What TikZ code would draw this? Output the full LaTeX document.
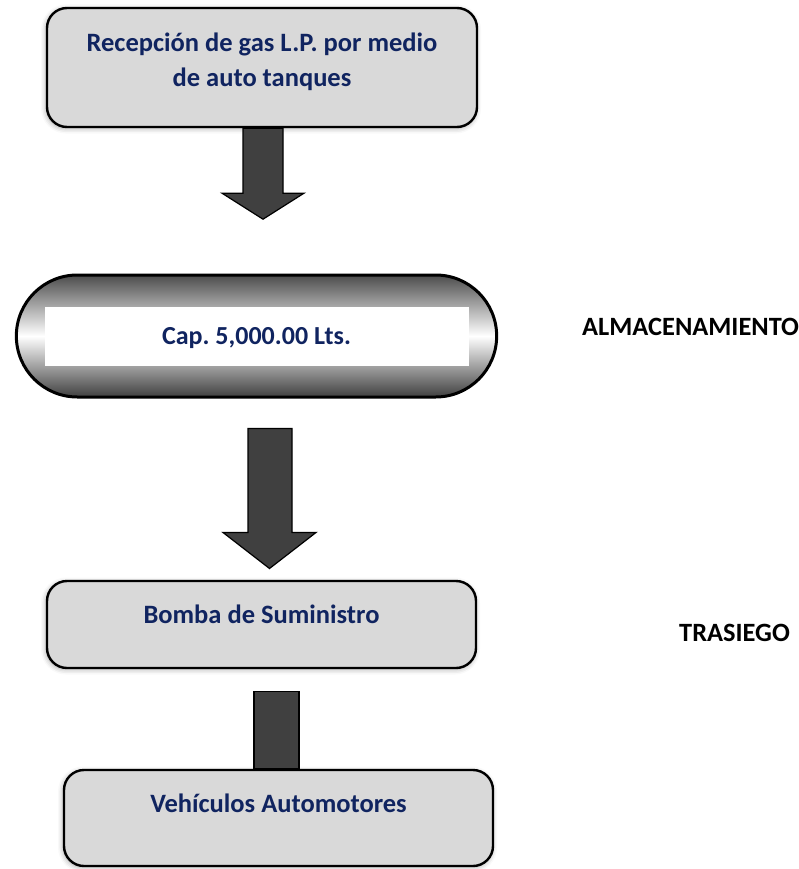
\documentclass[tikz,border=0pt]{standalone}
\usepackage{fontspec}
\setmainfont{Carlito}
\frenchspacing
\usepackage{tikz}
\usetikzlibrary{positioning,calc,shapes.misc,shadows.blur}
\definecolor{txtblue}{RGB}{16,36,96}
\definecolor{boxgray}{RGB}{217,217,217}
\definecolor{arrowgray}{RGB}{64,64,64}

\begin{document}
\begin{tikzpicture}[x=1pt,y=-1pt,
  procbox/.style={draw=black, line width=2.4pt, fill=boxgray, rounded corners=20pt,
    font=\fontsize{26.5}{35}\selectfont\bfseries, text=txtblue, align=center,
    blur shadow={shadow xshift=-1pt, shadow yshift=-1.5pt,
                 shadow blur radius=5pt, shadow opacity=35}},
  tankbox/.style={rounded rectangle, draw=black, line width=3pt,
    top color=black!70, bottom color=black!75, middle color=white,
    font=\fontsize{26}{30}\selectfont\bfseries, text=txtblue,
    path picture={\fill[white]
      ($(path picture bounding box.center)+(-212pt,-29.5pt)$) rectangle
      ($(path picture bounding box.center)+(212pt,29.5pt)$);}},
  blockarrow/.style={draw=black, line width=1.2pt, fill=arrowgray, line join=miter},
  stagelabel/.style={font=\fontsize{26.4}{30}\selectfont\bfseries,
    inner sep=0pt, anchor=base west}]

\useasboundingbox (0,0) rectangle (799,869);

% Process boxes
\node[procbox, minimum width=430pt, minimum height=119pt,
      text height=52pt, text depth=13.6pt] (recep) at (262,67.5)
      {Recepción de gas L.P. por medio\\de auto tanques};
\node[tankbox, minimum width=487pt, minimum height=122pt,
      text height=17pt, text depth=0pt] (tank) at (256.5,336)
      {Cap. 5,000.00 Lts.};
\node[procbox, minimum width=429pt, minimum height=87pt,
      text height=17pt, text depth=20pt] (bomba) at (261.5,624.5)
      {Bomba de Suministro};
\node[procbox, minimum width=429pt, minimum height=96pt,
      text height=17pt, text depth=29pt] (vehic) at (278.5,818)
      {Vehículos Automotores};

% Stage labels
\node[stagelabel] (almac) at (582,335) {ALMACENAMIENTO};
\node[stagelabel] (trasg) at (679,641) {TRASIEGO};

% Block arrows between the stages
\draw[blockarrow] ($(recep.south)+(-19,0)$) -- ++(0,65) -- ++(-21,0)
  -- ++(41,26) -- ++(41,-26) -- ++(-21,0) -- ++(0,-65) -- cycle;
\draw[blockarrow] ($(tank.south)+(-8.5,30)$) -- ++(0,104) -- ++(-25,0)
  -- ++(46.5,36) -- ++(46.5,-36) -- ++(-24,0) -- ++(0,-104) -- cycle;
\draw[blockarrow] ($(vehic.north)+(-24.5,0)$) rectangle ++(45,-77);
\end{tikzpicture}
\end{document}
